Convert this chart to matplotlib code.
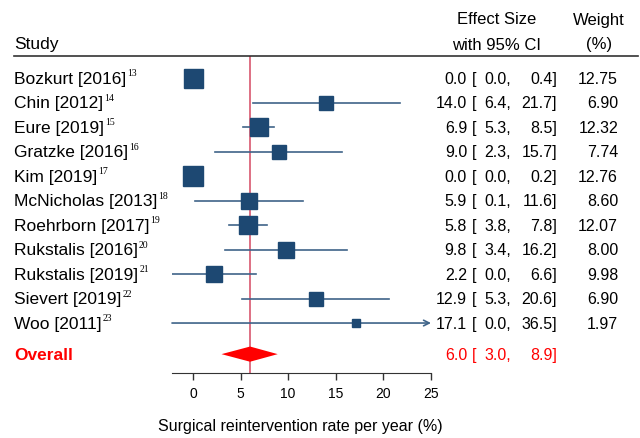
import matplotlib
matplotlib.use("Agg")
from matplotlib import pyplot as plt
from matplotlib.transforms import blended_transform_factory

studies = ["Bozkurt [2016]", "Chin [2012]", "Eure [2019]", "Gratzke [2016]", "Kim [2019]",
           "McNicholas [2013]", "Roehrborn [2017]", "Rukstalis [2016]", "Rukstalis [2019]",
           "Sievert [2019]", "Woo [2011]"]
refs = ["13", "14", "15", "16", "17", "18", "19", "20", "21", "22", "23"]
effect = [0.0, 14.0, 6.9, 9.0, 0.0, 5.9, 5.8, 9.8, 2.2, 12.9, 17.1]
ci_low = [0.0, 6.4, 5.3, 2.3, 0.0, 0.1, 3.8, 3.4, 0.0, 5.3, 0.0]
ci_high = [0.4, 21.7, 8.5, 15.7, 0.2, 11.6, 7.8, 16.2, 6.6, 20.6, 36.5]
weights = [12.75, 6.90, 12.32, 7.74, 12.76, 8.60, 12.07, 8.00, 9.98, 6.90, 1.97]
overall = 6.0
overall_ci = (3.0, 8.9)
ticks = [0, 5, 10, 15, 20, 25]

W, H = 640, 439
plt.rcParams['font.family'] = ['Liberation Sans', 'DejaVu Sans']
fig = plt.figure(figsize=(6.4, 4.39), dpi=100)

# axes placed in pixel terms: x from -2.2 to 25, rows 0..10 + overall
x0, x1 = 172, 431
y_top, y_bot = 57, 374
ax = fig.add_axes([x0 / W, 1 - y_bot / H, (x1 - x0) / W, (y_bot - y_top) / H])
xmin, xmax = -2.2, 25
ax.set_xlim(xmin, xmax)
ax.set_ylim(12.04, -0.9)
overall_row = 11.27

for s in ["top", "left", "right"]:
    ax.spines[s].set_visible(False)
ax.spines["bottom"].set_color("#333333")
ax.set_yticks([])
ax.set_xticks(ticks)
ax.tick_params(axis="x", length=5, width=1, color="#333333", labelsize=10, pad=4)

navy = "#1d4872"
line_c = "#3f6489"

ax.axvline(overall, color="#d8586e", lw=1.2, zorder=1)

for i in range(len(studies)):
    half = ci_high[i] - effect[i]
    lo = max(effect[i] - half, xmin)
    hi = ci_high[i]
    if hi > xmax:
        ax.annotate("", xy=(xmax, i), xytext=(lo, i),
                    arrowprops=dict(arrowstyle="->", color=line_c, lw=1.2,
                                    shrinkA=0, shrinkB=0), zorder=2)
    else:
        ax.plot([lo, hi], [i, i], color=line_c, lw=1.2, zorder=2)
    ms = 19 * 0.72 * (weights[i] / 12.75) ** 0.5
    ax.plot(effect[i], i, marker="s", ms=ms, color=navy, mec=navy, zorder=3)

h = 0.31
ax.fill([overall_ci[0], overall, overall_ci[1], overall],
        [overall_row, overall_row - h, overall_row, overall_row + h],
        color="#ff0000", lw=0, zorder=3)

tr = blended_transform_factory(fig.transFigure, ax.transData)


def fx(px):
    return px / W


def fy(py):
    return 1 - py / H


# header
fig.text(fx(14), fy(45), "Study", fontsize=12.5, va="center", ha="left")
fig.text(fx(497), fy(20), "Effect Size", fontsize=12, va="center", ha="center")
fig.text(fx(497), fy(45), "with 95% CI", fontsize=12, va="center", ha="center")
fig.text(fx(599), fy(20), "Weight", fontsize=12, va="center", ha="center")
fig.text(fx(599), fy(45), "(%)", fontsize=12, va="center", ha="center")
fig.add_artist(plt.Line2D([fx(14), fx(638)], [fy(57), fy(57)], color="#333333", lw=1.2))
fig.text(fx(300), fy(427), "Surgical reintervention rate per year (%)", fontsize=11.5,
         va="center", ha="center")

fig.canvas.draw()
renderer = fig.canvas.get_renderer()

for i in range(len(studies)):
    t = ax.text(fx(14), i, studies[i], transform=tr, fontsize=12.5, va="center", ha="left")
    bb = t.get_window_extent(renderer)
    ax.text(fx(bb.x1 + 1), i - 0.22, refs[i], transform=tr, fontsize=7,
            family="Liberation Serif", va="center", ha="left")
    ax.text(fx(467), i, f"{effect[i]:.1f}", transform=tr, fontsize=11.5, va="center", ha="right")
    ax.text(fx(472), i, "[", transform=tr, fontsize=11.5, va="center", ha="left")
    ax.text(fx(511), i, f"{ci_low[i]:.1f},", transform=tr, fontsize=11.5, va="center", ha="right")
    ax.text(fx(557), i, f"{ci_high[i]:.1f}]", transform=tr, fontsize=11.5, va="center", ha="right")
    ax.text(fx(618), i, f"{weights[i]:.2f}", transform=tr, fontsize=11.5, va="center", ha="right")

red = "#ff0000"
ax.text(fx(14), overall_row, "Overall", transform=tr, fontsize=12.5, fontweight="bold",
        color=red, va="center", ha="left")
ax.text(fx(467), overall_row, f"{overall:.1f}", transform=tr, fontsize=11.5, color=red, va="center", ha="right")
ax.text(fx(472), overall_row, "[", transform=tr, fontsize=11.5, color=red, va="center", ha="left")
ax.text(fx(511), overall_row, f"{overall_ci[0]:.1f},", transform=tr, fontsize=11.5, color=red, va="center", ha="right")
ax.text(fx(557), overall_row, f"{overall_ci[1]:.1f}]", transform=tr, fontsize=11.5, color=red, va="center", ha="right")

fig.savefig("out.png", dpi=100)
